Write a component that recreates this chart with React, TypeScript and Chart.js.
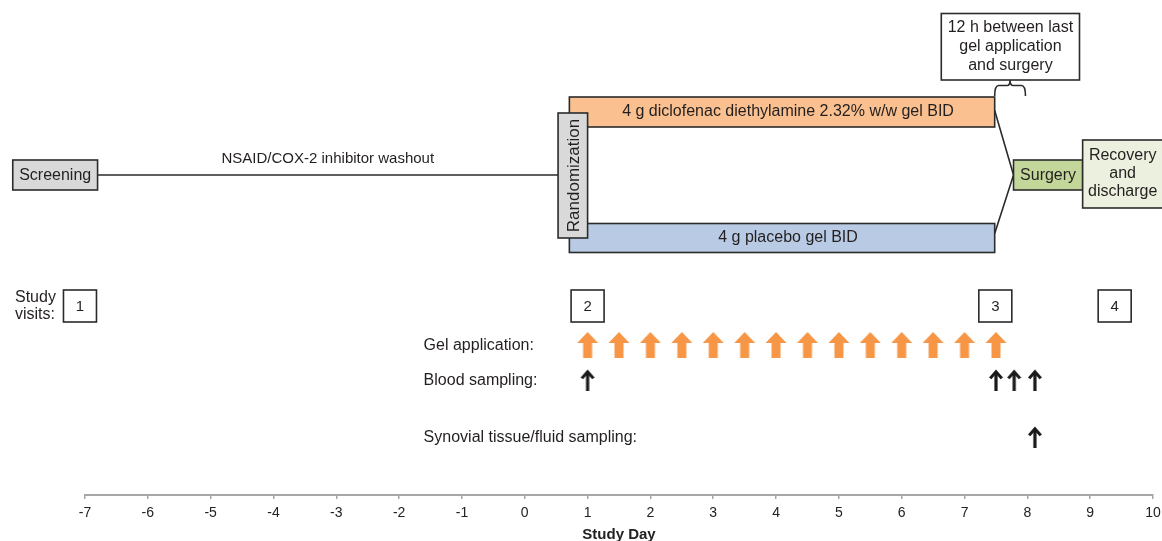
import React, { useEffect, useRef } from "react";
import { Chart, registerables } from "chart.js";

Chart.register(...registerables);

// ---------- data ----------
const dayMin = -7;
const dayMax = 10;
const dayTicks = [-7, -6, -5, -4, -3, -2, -1, 0, 1, 2, 3, 4, 5, 6, 7, 8, 9, 10];

const gelDays = [1, 1.5, 2, 2.5, 3, 3.5, 4, 4.5, 5, 5.5, 6, 6.5, 7, 7.5];
const bloodDays = [1, 7.5, 7.79, 8.12];
const synovialDays = [8.12];

const visitLabels = ["1", "2", "3", "4"];
const visitDays = [-7.08, 1, 7.49, 9.39];

const rowLabels = ["Gel application:", "Blood sampling:", "Synovial tissue/fluid sampling:"];
const rowLabelDay = -1.61;

const phaseNames = [
  "Screening",
  "Randomization",
  "4 g diclofenac diethylamine 2.32% w/w gel BID",
  "4 g placebo gel BID",
  "Surgery",
  "Recovery\nand\ndischarge",
];
const phaseStart = [-8.15, 0.53, 0.71, 0.71, 7.78, 8.88];
const phaseEnd = [-6.8, 1.0, 7.48, 7.48, 8.88, 10.25];

const washoutLabel = "NSAID/COX-2 inhibitor washout";
const noteText = ["12 h between last", "gel application", "and surgery"];
const noteStart = 6.63;
const noteEnd = 8.83;
const braceStart = 7.48;
const braceEnd = 7.97;

const axisTitle = "Study Day";

// ---------- layout (vertical lanes, scale units; 0 at top) ----------
const Y = {
  noteTop: 2.7,
  noteBottom: 16,
  braceTop: 17.1,
  braceBottom: 18.4,
  activeTop: 19.4,
  activeBottom: 25.4,
  randTop: 22.6,
  randBottom: 47.6,
  placeboTop: 44.7,
  placeboBottom: 50.5,
  mainTop: 32,
  mainBottom: 38,
  recTop: 28,
  recBottom: 41.6,
  washoutLabel: 31.8,
  visitTop: 58,
  visitBottom: 64.4,
  gel: 69,
  blood: 76,
  synovial: 87.4,
};

const FONT = '"Liberation Sans", Arial, Helvetica, sans-serif';
const TEXT = "#231f20";
const EDGE = "#2b2b2b";
const fills = ["#d9d9d9", "#d9d9d9", "#fac08f", "#b9cbe4", "#c4d79b", "#ebf1de"];

function makeGelArrow(): HTMLCanvasElement {
  const c = document.createElement("canvas");
  c.width = 22;
  c.height = 26;
  const g = c.getContext("2d")!;
  g.fillStyle = "#f79646";
  g.beginPath();
  g.moveTo(11, 0);
  g.lineTo(21.5, 11);
  g.lineTo(15.5, 11);
  g.lineTo(15.5, 26);
  g.lineTo(6.5, 26);
  g.lineTo(6.5, 11);
  g.lineTo(0.5, 11);
  g.closePath();
  g.fill();
  return c;
}

function makeBlackArrow(): HTMLCanvasElement {
  const c = document.createElement("canvas");
  c.width = 16;
  c.height = 22;
  const g = c.getContext("2d")!;
  g.fillStyle = "#1a1a1a";
  g.fillRect(6.4, 4, 3.2, 18);
  g.beginPath();
  g.moveTo(8, 0.5);
  g.lineTo(15, 8.5);
  g.lineTo(12.6, 10.2);
  g.lineTo(8, 5);
  g.lineTo(3.4, 10.2);
  g.lineTo(1, 8.5);
  g.closePath();
  g.fill();
  return c;
}

const diagramPlugin = {
  id: "studyDiagram",
  afterDraw(chart: any) {
    const ctx: CanvasRenderingContext2D = chart.ctx;
    const xs = chart.scales.x;
    const ys = chart.scales.y;
    const px = (d: number) => xs.getPixelForValue(d);
    const py = (v: number) => ys.getPixelForValue(v);

    const box = (x0: number, x1: number, y0: number, y1: number, fill: string) => {
      ctx.save();
      ctx.fillStyle = fill;
      ctx.fillRect(x0, y0, x1 - x0, y1 - y0);
      ctx.strokeStyle = EDGE;
      ctx.lineWidth = 1.6;
      ctx.strokeRect(x0, y0, x1 - x0, y1 - y0);
      ctx.restore();
    };
    const text = (s: string, x: number, y: number, align: CanvasTextAlign = "center", size = 16) => {
      ctx.save();
      ctx.fillStyle = TEXT;
      ctx.font = `${size}px ${FONT}`;
      ctx.textAlign = align;
      ctx.textBaseline = "middle";
      ctx.fillText(s, x, y);
      ctx.restore();
    };
    const lines = (arr: string[], cx: number, cy: number, lh: number, size = 16) => {
      const n = arr.length;
      arr.forEach((s, i) => text(s, cx, cy + (i - (n - 1) / 2) * lh, "center", size));
    };

    const midMain = py((Y.mainTop + Y.mainBottom) / 2);

    // connecting lines
    ctx.save();
    ctx.strokeStyle = EDGE;
    ctx.lineWidth = 1.6;
    ctx.beginPath();
    ctx.moveTo(px(phaseEnd[0]), midMain);
    ctx.lineTo(px(phaseStart[1]), midMain);
    const activeMid = py((Y.activeTop + Y.activeBottom) / 2 - 0.3);
    const placeboMid = py((Y.placeboTop + Y.placeboBottom) / 2 - 0.9);
    ctx.moveTo(px(phaseEnd[2]), activeMid);
    ctx.lineTo(px(phaseStart[4]), midMain);
    ctx.lineTo(px(phaseEnd[3]), placeboMid);
    ctx.stroke();
    ctx.restore();

    // washout label
    text(washoutLabel, (px(phaseEnd[0]) + px(phaseStart[1])) / 2, py(Y.washoutLabel), "center", 15);

    // treatment bars
    box(px(phaseStart[2]), px(phaseEnd[2]), py(Y.activeTop), py(Y.activeBottom), fills[2]);
    text(phaseNames[2], (px(phaseStart[2]) + px(phaseEnd[2])) / 2 + 6, py((Y.activeTop + Y.activeBottom) / 2));
    box(px(phaseStart[3]), px(phaseEnd[3]), py(Y.placeboTop), py(Y.placeboBottom), fills[3]);
    text(phaseNames[3], (px(phaseStart[3]) + px(phaseEnd[3])) / 2 + 6, py((Y.placeboTop + Y.placeboBottom) / 2));

    // randomization
    box(px(phaseStart[1]), px(phaseEnd[1]), py(Y.randTop), py(Y.randBottom), fills[1]);
    ctx.save();
    ctx.translate((px(phaseStart[1]) + px(phaseEnd[1])) / 2 + 1, py((Y.randTop + Y.randBottom) / 2));
    ctx.rotate(-Math.PI / 2);
    ctx.fillStyle = TEXT;
    ctx.font = `17px ${FONT}`;
    ctx.textAlign = "center";
    ctx.textBaseline = "middle";
    ctx.fillText(phaseNames[1], 0, 0);
    ctx.restore();

    // screening
    box(px(phaseStart[0]), px(phaseEnd[0]), py(Y.mainTop), py(Y.mainBottom), fills[0]);
    text(phaseNames[0], (px(phaseStart[0]) + px(phaseEnd[0])) / 2, midMain + 1);

    // surgery
    box(px(phaseStart[4]), px(phaseEnd[4]), py(Y.mainTop), py(Y.mainBottom), fills[4]);
    text(phaseNames[4], (px(phaseStart[4]) + px(phaseEnd[4])) / 2, midMain + 1);

    // recovery
    box(px(phaseStart[5]), px(phaseEnd[5]), py(Y.recTop), py(Y.recBottom), fills[5]);
    lines(phaseNames[5].split("\n"), (px(phaseStart[5]) + px(phaseEnd[5])) / 2 - 3, py((Y.recTop + Y.recBottom) / 2), 18, 16);

    // note box
    box(px(noteStart), px(noteEnd), py(Y.noteTop), py(Y.noteBottom), "#ffffff");
    lines(noteText, (px(noteStart) + px(noteEnd)) / 2, py((Y.noteTop + Y.noteBottom) / 2), 19, 16);

    // brace
    const bx0 = px(braceStart);
    const bx1 = px(braceEnd);
    const bm = (bx0 + bx1) / 2;
    const bt = py(Y.braceTop);
    const bb = py(Y.braceBottom) + 4;
    ctx.save();
    ctx.strokeStyle = EDGE;
    ctx.lineWidth = 1.6;
    ctx.beginPath();
    ctx.moveTo(bx0, bb);
    ctx.quadraticCurveTo(bx0, bt, bx0 + 4, bt);
    ctx.lineTo(bm - 3, bt);
    ctx.quadraticCurveTo(bm, bt, bm, py(Y.noteBottom));
    ctx.quadraticCurveTo(bm, bt, bm + 3, bt);
    ctx.lineTo(bx1 - 4, bt);
    ctx.quadraticCurveTo(bx1, bt, bx1, bb);
    ctx.stroke();
    ctx.restore();

    // study visits
    const vMid = py((Y.visitTop + Y.visitBottom) / 2);
    ctx.save();
    ctx.fillStyle = TEXT;
    ctx.font = `16px ${FONT}`;
    ctx.textAlign = "left";
    ctx.textBaseline = "middle";
    ctx.fillText("Study", 15, vMid - 8);
    ctx.fillText("visits:", 15, vMid + 9);
    ctx.restore();
    visitDays.forEach((d, i) => {
      const cx = px(d);
      box(cx - 16.5, cx + 16.5, py(Y.visitTop), py(Y.visitBottom), "#ffffff");
      text(visitLabels[i], cx, vMid + 1, "center", 15);
    });

    // row labels
    const rowYs = [Y.gel, Y.blood, Y.synovial];
    rowLabels.forEach((s, i) => text(s, px(rowLabelDay), py(rowYs[i]) + 1, "left"));
  },
};

export default function App() {
  const ref = useRef<HTMLCanvasElement | null>(null);
  useEffect(() => {
    if (!ref.current) return;
    const gelImg = makeGelArrow();
    const blackImg = makeBlackArrow();
    const chart = new Chart(ref.current, {
      type: "scatter",
      data: {
        datasets: [
          {
            label: "Gel application",
            data: gelDays.map((d) => ({ x: d, y: Y.gel })),
            pointStyle: gelImg as any,
            pointRadius: 11,
            clip: false as any,
          },
          {
            label: "Blood sampling",
            data: bloodDays.map((d) => ({ x: d, y: Y.blood })),
            pointStyle: blackImg as any,
            pointRadius: 10,
            clip: false as any,
          },
          {
            label: "Synovial tissue/fluid sampling",
            data: synovialDays.map((d) => ({ x: d, y: Y.synovial })),
            pointStyle: blackImg as any,
            pointRadius: 10,
            clip: false as any,
          },
        ],
      },
      options: {
        animation: false,
        responsive: false,
        maintainAspectRatio: false,
        events: [],
        layout: { autoPadding: false, padding: { left: 85, right: 9, top: 0, bottom: -1 } },
        plugins: { legend: { display: false }, tooltip: { enabled: false } },
        scales: {
          x: {
            type: "linear",
            min: dayMin,
            max: dayMax,
            afterBuildTicks: (s: any) => {
              s.ticks = dayTicks.map((v) => ({ value: v }));
            },
            afterFit: (s: any) => {
              s.paddingLeft = 0;
              s.paddingRight = 0;
            },
            ticks: {
              color: "#222",
              font: { family: FONT, size: 14, lineHeight: 1 },
              padding: 7,
              maxRotation: 0,
              autoSkip: false,
            },
            grid: { drawOnChartArea: false, drawTicks: true, tickLength: 4, color: "#a6a6a6", lineWidth: 1.5 },
            border: { display: true, color: "#a6a6a6", width: 2 },
            title: {
              display: true,
              text: axisTitle,
              color: "#222",
              font: { family: FONT, size: 15, weight: "bold", lineHeight: 1 },
              padding: { top: 0, bottom: 0 },
            },
          },
          y: { type: "linear", display: false, min: 0, max: 99, reverse: true },
        },
      },
      plugins: [diagramPlugin],
    });
    return () => chart.destroy();
  }, []);
  return (
    <div style={{ position: "fixed", left: 0, top: 0, width: 1162, height: 541, background: "#fff" }}>
      <canvas ref={ref} width={1162} height={541} style={{ width: 1162, height: 541, display: "block" }} />
    </div>
  );
}
